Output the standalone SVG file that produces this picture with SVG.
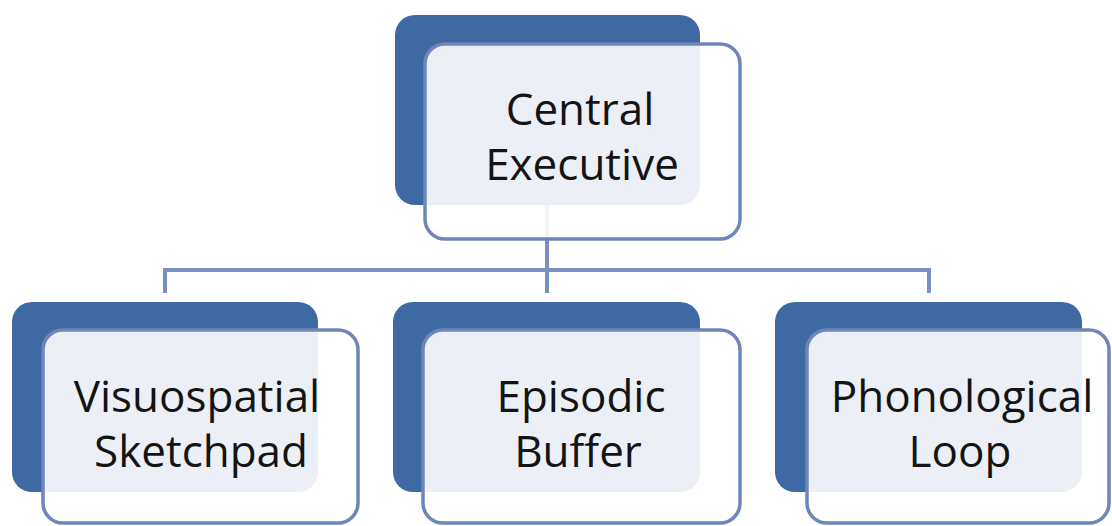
<svg xmlns="http://www.w3.org/2000/svg" width="1112" height="526" viewBox="0 0 1112 526">
  <style>
    .back { fill: #3e69a2; }
    .front { fill: #ffffff; fill-opacity: 0.9; stroke: #6f86b7; stroke-width: 3.5; }
    .link { fill: none; stroke: #7a8fc0; stroke-width: 4; }
    .label { font-family: "Open Sans", "Liberation Sans", sans-serif; font-size: 44px; fill: #141414; text-anchor: middle; }
  </style>
  <rect width="1112" height="526" fill="#ffffff"/>

  <!-- hierarchy lines -->
  <g id="connectors">
    <path class="link" d="M547 205 V270"/>
    <path class="link" d="M165 293 V270 H929 V293"/>
    <path class="link" d="M547 270 V293"/>
  </g>

  <g id="central-executive">
    <rect class="back" x="395" y="15" width="305" height="190" rx="20"/>
    <rect class="front" x="425" y="44" width="315" height="195" rx="20"/>
    <text class="label" x="580" y="125">Central</text>
    <text class="label" x="582" y="180">Executive</text>
  </g>

  <g id="visuospatial-sketchpad">
    <rect class="back" x="12" y="302" width="306" height="190" rx="20"/>
    <rect class="front" x="43" y="330" width="315" height="193" rx="20"/>
    <text class="label" x="197" y="412">Visuospatial</text>
    <text class="label" x="201" y="467">Sketchpad</text>
  </g>

  <g id="episodic-buffer">
    <rect class="back" x="393" y="302" width="307" height="190" rx="20"/>
    <rect class="front" x="423" y="330" width="317" height="193" rx="20"/>
    <text class="label" x="581" y="412">Episodic</text>
    <text class="label" x="578" y="467">Buffer</text>
  </g>

  <g id="phonological-loop">
    <rect class="back" x="775" y="302" width="307" height="190" rx="20"/>
    <rect class="front" x="807" y="330" width="302" height="193" rx="20"/>
    <text class="label" x="962" y="412">Phonological</text>
    <text class="label" x="960" y="467">Loop</text>
  </g>
</svg>
